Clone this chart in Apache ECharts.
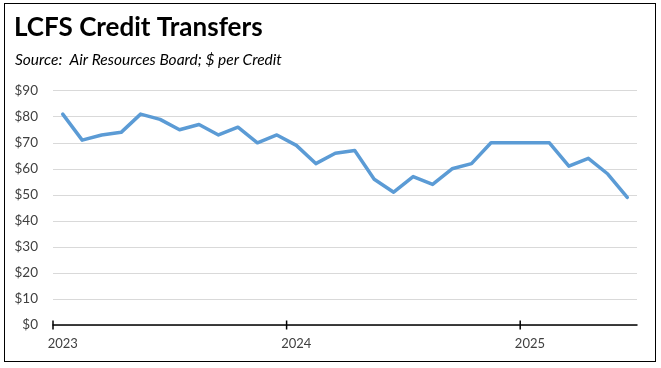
<!DOCTYPE html>
<html>
<head>
<meta charset="utf-8">
<script src="https://cdn.jsdelivr.net/npm/echarts@6/dist/echarts.min.js"></script>
<style>
html,body{margin:0;padding:0;background:#fff;}
#frame{position:absolute;left:4px;top:3px;width:650px;height:357px;border:1.5px solid #000;box-sizing:content-box;}
#chart{position:absolute;left:0;top:0;width:661px;height:368px;}
</style>
</head>
<body>
<div id="frame"></div>
<div id="chart"></div>
<script>
const months = ["2023-01","2023-02","2023-03","2023-04","2023-05","2023-06","2023-07","2023-08","2023-09","2023-10","2023-11","2023-12",
"2024-01","2024-02","2024-03","2024-04","2024-05","2024-06","2024-07","2024-08","2024-09","2024-10","2024-11","2024-12",
"2025-01","2025-02","2025-03","2025-04","2025-05","2025-06"];
const prices = [81,71,73,74,81,79,75,77,73,76,70,73,69,62,66,67,56,51,57,54,60,62,70,70,70,70,61,64,58,49];
const yTicks = [0,10,20,30,40,50,60,70,80,90];
// year boundary tick positions, in month units from Jan 2023
const yearTicks = [0,12,24];

const chart = echarts.init(document.getElementById('chart'), null, {renderer:'canvas'});
chart.setOption({
  animation:false,
  backgroundColor:'transparent',
  title:[
    {text:'LCFS Credit Transfers', left:9, top:10,
     textStyle:{fontFamily:'Lato', fontWeight:'bold', fontSize:26, color:'#000'}},
    {text:'Source:  Air Resources Board; $ per Credit', left:10, top:47,
     textStyle:{fontFamily:'Lato', fontStyle:'italic', fontWeight:'normal', fontSize:15.5, color:'#000'}}
  ],
  grid:{left:53, right:24, top:90.7, bottom:43, containLabel:false},
  xAxis:[
    {type:'category', data:months, boundaryGap:true,
     axisLine:{lineStyle:{color:'#000', width:1.5}},
     axisTick:{show:false},
     axisLabel:{interval:11, margin:12, color:'#404040', fontFamily:'Lato', fontSize:13,
       formatter:v=>v.slice(0,4)},
     splitLine:{show:false}},
    {type:'value', min:0, max:months.length, show:false}
  ],
  yAxis:{type:'value', min:yTicks[0], max:yTicks[yTicks.length-1], interval:10,
    axisLine:{show:false}, axisTick:{show:false},
    axisLabel:{margin:15, color:'#404040', fontFamily:'Lato', fontSize:13.5, formatter:v=>'$'+v},
    splitLine:{lineStyle:{color:'#d9d9d9', width:1.2}}},
  series:[
    {type:'line', data:prices, xAxisIndex:0, showSymbol:false, symbol:'none',
     lineStyle:{color:'#5b9bd5', width:3.5, cap:'round', join:'round'}, z:3},
    {type:'custom', xAxisIndex:1, yAxisIndex:0, z:4, silent:true,
     data:yearTicks.map(t=>[t,0]),
     renderItem:(params, api)=>{
       const p = api.coord([api.value(0), 0]);
       return {type:'line', shape:{x1:p[0], y1:p[1]-4.5, x2:p[0], y2:p[1]+4.5},
         style:{stroke:'#000', lineWidth:1.5}};
     }}
  ]
});
</script>
</body>
</html>
